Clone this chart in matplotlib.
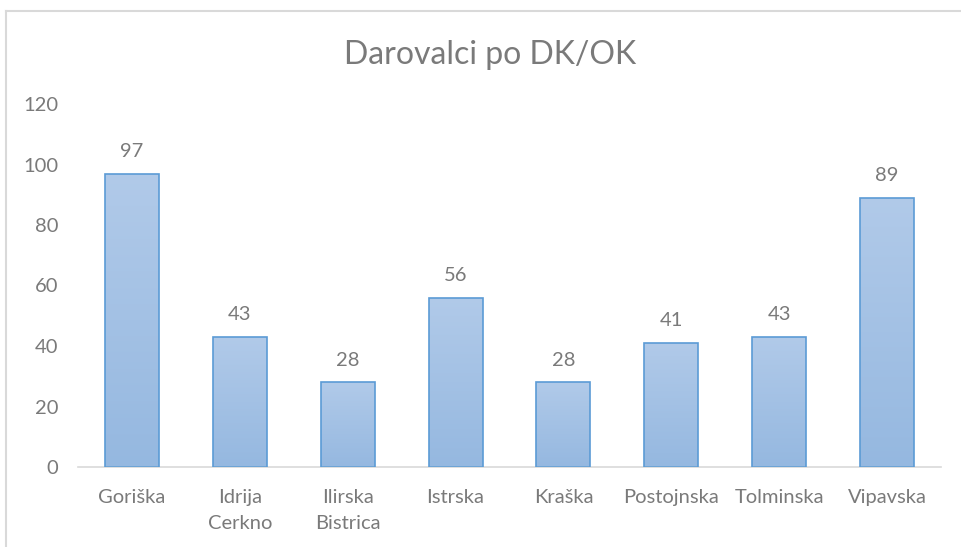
import matplotlib
matplotlib.use("Agg")
import matplotlib.pyplot as plt
import numpy as np
from matplotlib.colors import LinearSegmentedColormap

categories = ["Goriška", "Idrija\nCerkno", "Ilirska\nBistrica", "Istrska", "Kraška",
              "Postojnska", "Tolminska", "Vipavska"]
values = [97, 43, 28, 56, 28, 41, 43, 89]
yticks = [0, 20, 40, 60, 80, 100, 120]

plt.rcParams['font.family'] = ['Lato', 'DejaVu Sans']
txt = "#7a7a7a"

fig = plt.figure(figsize=(9.61, 5.47), dpi=100)
ax = fig.add_axes([78/961, 80/547, 863/961, (467-104)/547])

x = np.arange(len(categories))
bars = ax.bar(x, values, width=0.5, color="none", edgecolor="#5B9BD5", linewidth=1.2, zorder=3)
cmap = LinearSegmentedColormap.from_list("g", ["#95B8E0", "#B1CAE9"])
grad = np.linspace(0, 1, 256).reshape(-1, 1)
for b in bars:
    x0, y0, w, h = b.get_x(), b.get_y(), b.get_width(), b.get_height()
    im = ax.imshow(grad, extent=[x0, x0 + w, y0, y0 + h], origin="lower",
                   cmap=cmap, aspect="auto", zorder=2)
    im.set_clip_path(b)
    ax.text(x0 + w / 2, h + 4.5, str(int(h)), ha="center", va="bottom",
            fontsize=14.5, color=txt)

ax.set_xlim(-0.5, len(categories) - 0.5)
ax.set_ylim(0, 120)
ax.set_yticks(yticks)
ax.set_xticks(x)
ax.set_xticklabels(categories, fontsize=14.5, color=txt, linespacing=1.65)
ax.tick_params(axis="y", labelsize=14.5, labelcolor=txt, length=0, pad=14)
ax.tick_params(axis="x", length=0, pad=16)
for s in ["top", "right", "left"]:
    ax.spines[s].set_visible(False)
ax.spines["bottom"].set_color("#d9d9d9")
ax.spines["bottom"].set_linewidth(1.2)

fig.text(490/961, 1 - 55/547, "Darovalci po DK/OK", ha="center", va="center",
         fontsize=23, color=txt)

# chart border
fig.add_artist(plt.Line2D([6/961, 1], [1 - 11/547, 1 - 11/547], color="#d9d9d9", lw=1.5,
                          transform=fig.transFigure))
fig.add_artist(plt.Line2D([6/961, 6/961], [0, 1 - 11/547], color="#d9d9d9", lw=1.5,
                          transform=fig.transFigure))

fig.savefig("out.png", dpi=100)
